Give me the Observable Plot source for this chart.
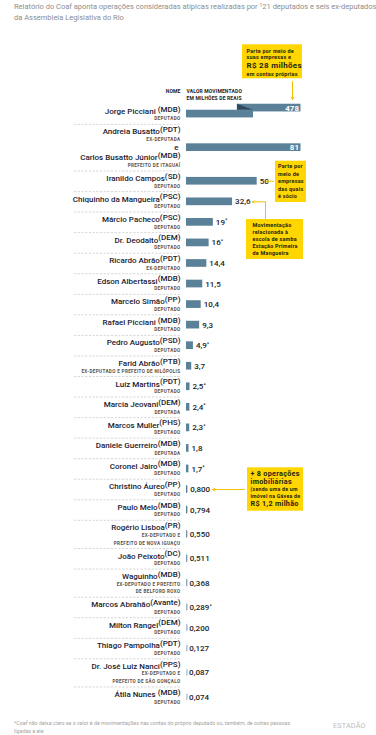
<!DOCTYPE html>
<html lang="pt-BR">
<head>
<meta charset="utf-8">
<script src="https://cdn.jsdelivr.net/npm/d3@7"></script>
<script src="https://cdn.jsdelivr.net/npm/@observablehq/plot@0.6"></script>
<style>
html,body{margin:0;padding:0;background:#fff;}
#wrap{position:relative;width:376px;height:735px;overflow:hidden;font-family:Roboto,"Noto Sans",sans-serif;}
#title{position:absolute;left:14px;top:2px;font-size:7.5px;line-height:10.8px;color:#8d8d8d;white-space:nowrap;}
#title sup{font-size:5px;vertical-align:2px;line-height:0;}
#chart{position:absolute;left:0;top:30px;}
#foot{position:absolute;left:14px;top:720px;font-size:5.3px;line-height:7.6px;color:#a3a3a3;white-space:nowrap;}
#logo{position:absolute;left:333px;top:721px;font-size:7.2px;color:#bdbdbd;letter-spacing:0.2px;}
g[aria-description="roles"] text{letter-spacing:0.35px;}
g[aria-description="note-s"] text{letter-spacing:0.25px;}
g[aria-description="note-b"] text{letter-spacing:0.3px;}
g[aria-description="header"] text{letter-spacing:0.15px;}
</style>
</head>
<body>
<div id="wrap">
  <div id="title">Relatório do Coaf aponta operações consideradas atípicas realizadas por <sup>1</sup>21 deputados e seis ex-deputados<br>da Assembleia Legislativa do Rio</div>
  <div id="chart"></div>
  <div id="foot">*Coaf não deixa claro se o valor é de movimentações nas contas do próprio deputado ou, também, de outras pessoas<br>ligadas a ele</div>
  <div id="logo">ESTADÃO</div>
</div>
<script>
// ---------- data ----------
const names = ["Jorge Picciani ", "Andreia Busatto+Carlos Busatto Júnior", "Iranildo Campos", "Chiquinho da Mangueira",
  "Márcio Pacheco", "Dr. Deodalto", "Ricardo Abrão", "Edson Albertassi", "Marcelo Simão", "Rafael Picciani ",
  "Pedro Augusto", "Farid Abrão", "Luiz Martins", "Marcia Jeovani", "Marcos Muller", "Daniele Guerreiro",
  "Coronel Jairo", "Christino Áureo", "Paulo Melo", "Rogério Lisboa", "João Peixoto", "Waguinho",
  "Marcos Abrahão", "Milton Rangel", "Thiago Pampolha", "Dr. José Luiz Nanci", "Átila Nunes "];
const parties = ["MDB", "PDT+MDB", "SD", "PSC", "PSC", "DEM", "PDT", "MDB", "PP", "MDB", "PSD", "PTB", "PDT", "DEM",
  "PHS", "MDB", "MDB", "PP", "MDB", "PR", "DC", "MDB", "Avante", "DEM", "PDT", "PPS", "MDB"];
const roles = ["DEPUTADO", "EX-DEPUTADA+PREFEITO DE ITAGUAÍ", "DEPUTADO", "DEPUTADO", "DEPUTADO", "DEPUTADO",
  "EX-DEPUTADO", "DEPUTADO", "DEPUTADO", "DEPUTADO", "DEPUTADO", "EX-DEPUTADO E PREFEITO DE NILÓPOLIS", "DEPUTADO",
  "DEPUTADA", "DEPUTADO", "DEPUTADA", "DEPUTADO", "DEPUTADO", "DEPUTADO", "EX-DEPUTADO E\nPREFEITO DE NOVA IGUAÇU",
  "DEPUTADO", "EX-DEPUTADO E PREFEITO\nDE BELFORD ROXO", "DEPUTADO", "DEPUTADO", "DEPUTADO",
  "EX-DEPUTADO E\nPREFEITO DE SÃO GONÇALO", "DEPUTADO"];
const values = [478, 81, 50, 32.6, 19, 16, 14.4, 11.5, 10.4, 9.3, 4.9, 3.7, 2.5, 2.4, 2.3, 1.8, 1.7,
  0.800, 0.794, 0.550, 0.511, 0.368, 0.289, 0.200, 0.127, 0.087, 0.074];
const asterisked = ["Márcio Pacheco", "Dr. Deodalto", "Pedro Augusto", "Luiz Martins", "Marcia Jeovani",
  "Marcos Muller", "Coronel Jairo", "Marcos Abrahão"];

// ---------- fonts ----------
function hasFont(f) {
  const c = document.createElement("canvas").getContext("2d");
  const s = "Iranildo Campos Mangueira 0123";
  c.font = "20px monospace"; const a = c.measureText(s).width;
  c.font = `20px "${f}", monospace`; const b = c.measureText(s).width;
  return Math.abs(a - b) > 0.5;
}
const NF = hasFont("Liberation Sans Narrow")
  ? {family: '"Liberation Sans Narrow", Roboto, sans-serif', size: 9, weight: "bold"}
  : {family: "Roboto, sans-serif", size: 8, weight: 500};

// ---------- scales / layout ----------
const maxV = d3.max(values);
const cap = d3.max(values.filter(v => v < maxV));
const X0 = 186, X1 = 300.5;
const k = (X1 - X0) / cap;
const px = p => (p - X0) / k;            // pixel -> value units
const TOP = 73.3;
const fmt = v => (v < 1 ? v.toFixed(3) : (Number.isInteger(v) ? String(v) : v.toFixed(1))).replace(".", ",");

const rows = names.map((n, i) => {
  const nm = n.split("+"), pt = parties[i].split("+"), rl = roles[i].split("+");
  return {
    value: values[i],
    star: asterisked.includes(n.trim()),
    persons: nm.map((x, j) => ({name: x, party: pt[j], role: rl[j]}))
  };
});
let cursor = 0;
const nameLines = [], roleLines = [], andLines = [], seps = [];
rows.forEach((r, ri) => {
  const top = cursor; let b = top;
  r.persons.forEach((p, j) => {
    if (j > 0) { b += 9.5; andLines.push({y: b}); }
    b += 10;
    nameLines.push({y: b, name: p.name, party: p.party});
    p.role.split("\n").forEach((t, q) => { b += q === 0 ? 6.6 : 7.6; roleLines.push({y: b, text: t}); });
  });
  const bottom = b + 3.95;
  r.top = top; r.c = (top + bottom) / 2; r.key = r.persons[0].name.trim();
  if (ri > 0) seps.push({y: top});
  cursor = bottom;
});
const total = cursor;
const row = key => rows.find(r => r.key === key);

const BAR = "#5b8199", YEL = "#ffd600", ARW = "#f2c200", INK = "#25250f";
const bh = 3.85;
const big = rows.filter(r => r.value === maxV);
const main = rows.filter(r => r.value !== maxV);
const bc = big[0].c;

// annotation helpers (anchored to the target rows)
function box(r, x1, x2, d1, d2) {
  return Plot.rect([0], {x1: px(x1), x2: px(x2), y1: r.c + d1, y2: r.c + d2, fill: YEL});
}
function lines(r, x, items, size, desc) {
  return Plot.text(items, {x: px(x), y: d => r.c + d[1], text: d => d[0], textAnchor: "start", lineAnchor: "bottom",
    fontSize: size, fontWeight: "bold", fill: INK, ariaDescription: desc});
}
function arrow(r, x1, d1, x2, d2, head = 3.5) {
  return Plot.arrow([0], {x1: px(x1), y1: r.c + d1, x2: px(x2), y2: r.c + d2, stroke: ARW, strokeWidth: 1, headLength: head});
}
const rJ = row("Jorge Picciani"), rI = row("Iranildo Campos"), rC = row("Chiquinho da Mangueira"), rA = row("Christino Áureo");

const plot = Plot.plot({
  width: 376, height: 685,
  marginLeft: 0, marginRight: 0, marginTop: 0, marginBottom: 0,
  x: {domain: [0, cap], range: [X0, X1], axis: null},
  y: {domain: [0, total], range: [TOP, TOP + total], axis: null},
  style: {fontFamily: "Roboto, sans-serif", background: "transparent", overflow: "visible"},
  marks: [
    Plot.ruleY(seps, {y: "y", x1: px(74), x2: px(180), stroke: "#c4c4c4", strokeWidth: 0.7, strokeDasharray: "2.2,1.5"}),
    // header
    Plot.text(["NOME"], {x: 0, y: -11.3, dx: -6, textAnchor: "end", lineAnchor: "bottom", fontSize: 5, fontWeight: "bold", fill: "#222", ariaDescription: "header"}),
    Plot.text([["VALOR MOVIMENTADO", -11.3], ["EM MILHÕES DE REAIS", -3.4]], {x: 0, y: d => d[1], text: d => d[0], textAnchor: "start", lineAnchor: "bottom", fontSize: 5, fontWeight: "bold", fill: "#222", ariaDescription: "header"}),
    // thin start line visible for tiny values
    Plot.ruleX(rows, {x: 0, y1: r => r.c - 3, y2: r => r.c + 3, dx: 0.5, stroke: "#9db3c2", strokeWidth: 1}),
    Plot.rect(main, {x1: 0, x2: "value", y1: r => r.c - bh, y2: r => r.c + bh, fill: BAR}),
    // broken bar for the outlier
    Plot.rect(big, {x1: cap * 0.445, x2: cap, y1: r => r.c - 6 - bh, y2: r => r.c - 6 + bh, fill: BAR}),
    Plot.areaY([{x: cap * 0.445, y1: bc - 6 - bh, y2: bc - bh}, {x: cap * 0.585, y1: bc - bh, y2: bc - bh}],
      {x: "x", y1: "y1", y2: "y2", fill: "#2e4a5d"}),
    Plot.rect(big, {x1: 0, x2: cap * 0.585, y1: r => r.c - bh, y2: r => r.c + bh, fill: BAR}),
    // value labels
    Plot.text(rows.filter(r => r.value < cap), {x: "value", y: "c", text: r => fmt(r.value) + (r.star ? "*" : ""),
      dx: 2.5, textAnchor: "start", lineAnchor: "middle", fontSize: 8, fontWeight: 500, fill: "#1c1c1c", ariaDescription: "vals"}),
    Plot.text(rows.filter(r => r.value >= cap), {x: cap, y: r => r.value === maxV ? r.c - 6 : r.c, text: r => fmt(r.value),
      dx: -2, textAnchor: "end", lineAnchor: "middle", fontSize: 8, fontWeight: "bold", fill: "#fff"}),
    // names / roles
    Plot.text(nameLines, {x: 0, y: "y", text: d => d.name, dx: -6, textAnchor: "end", lineAnchor: "bottom",
      fontFamily: NF.family, fontSize: NF.size, fontWeight: NF.weight, fill: "#1b2030", ariaDescription: "names"}),
    Plot.text(andLines, {x: 0, y: "y", text: () => "e", dx: -8, textAnchor: "end", lineAnchor: "bottom",
      fontFamily: NF.family, fontSize: NF.size, fontWeight: NF.weight, fill: "#1b2030"}),
    Plot.text(roleLines, {x: 0, y: "y", text: "text", dx: -6, textAnchor: "end", lineAnchor: "bottom",
      fontSize: 4.6, fontWeight: "bold", fill: "#5b5148", ariaDescription: "roles"}),
    // annotation 1
    box(rJ, 242, 302, -69.3, -35.3),
    lines(rJ, 246, [["Parte por meio de", -60.6], ["suas empresas e", -54.6], ["em contas próprias", -38.1]], 5.4, "note-s"),
    lines(rJ, 246, [["R$ 28 milhões", -45.6]], 8, "note-b"),
    arrow(rJ, 292, -32.6, 292, -14.6, 4),
    // annotation 2
    box(rI, 275, 306, -20.1, 21.2),
    lines(rI, 277.5, [["Parte por", -12.8], ["meio de", -5.3], ["empresas", 2.2], ["das quais", 9.7], ["é sócio", 17.2]], 5.4, "note-s"),
    arrow(rI, 273, 0, 266, 0, 3),
    // annotation 3
    Plot.line([[265, 0], [265, 17.7]], {x: d => px(d[0]), y: d => rC.c + d[1], stroke: ARW, strokeWidth: 1}),
    arrow(rC, 265, 0, 252, 0, 3),
    box(rC, 246, 303, 17.7, 57.7),
    lines(rC, 252, [["Movimentação", 24.7], ["relacionada à", 32.0], ["escola de samba", 39.4], ["Estação Primeira", 46.0], ["de Mangueira", 53.4]], 5.4, "note-s"),
    // annotation 4
    box(rA, 247, 303, -21.7, 21.7),
    lines(rA, 250, [["+ 8 operações", -14], ["imobiliárias", -5.7], ["R$ 1,2 milhão", 16]], 7.2, "note-b"),
    lines(rA, 250, [["(sendo uma de um", 1.7], ["imóvel na Gávea de", 8.3]], 5.2, "note-s"),
    arrow(rA, 244, 0, 212, 0, 3.5)
  ]
});
document.getElementById("chart").appendChild(plot);

// party in raised tspan; asterisk as small superscript
d3.select(plot).selectAll('g[aria-description="names"] text').each(function(i) {
  const d = nameLines[i]; const t = d3.select(this);
  t.text(null);
  t.append("tspan").text(d.name);
  t.append("tspan").attr("dy", -2.3).text(`(${d.party})`);
});
d3.select(plot).selectAll('g[aria-description="vals"] text').each(function() {
  const s = this.textContent;
  if (s.endsWith("*")) {
    this.textContent = s.slice(0, -1);
    d3.select(this).append("tspan").attr("dy", -2.5).attr("font-size", 5.5).text("*");
  }
});
</script>
</body>
</html>
